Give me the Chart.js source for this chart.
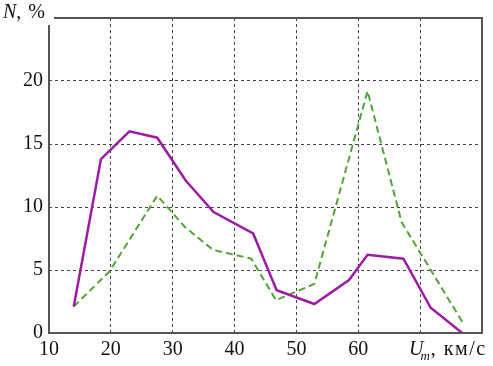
<!DOCTYPE html>
<html>
<head>
<meta charset="utf-8">
<script src="https://cdn.jsdelivr.net/npm/chart.js@4"></script>
<style>
  html, body { margin: 0; padding: 0; background: #fff; }
  #wrap { width: 493px; height: 366px; }
</style>
</head>
<body>
<div id="wrap"><canvas id="chart" width="493" height="366"></canvas></div>
<script>
// solid purple curve
var purpleX = [14, 18.4, 23, 27.5, 32.1, 36.6, 43, 46.8, 52.9, 58.5, 61.5, 67.3, 71.7, 76.8];
var purpleY = [2.1, 13.8, 16.0, 15.5, 12.1, 9.6, 7.9, 3.4, 2.3, 4.2, 6.2, 5.9, 2.0, 0];
// dashed green curve
var greenX = [14, 19.8, 27.5, 32, 36.5, 42.7, 46.7, 52.9, 61.5, 67, 76.8];
var greenY = [2.1, 4.9, 10.9, 8.4, 6.6, 5.9, 2.6, 3.9, 19.2, 8.8, 0.9];

var xTicks = [10, 20, 30, 40, 50, 60];
var yTicks = [0, 5, 10, 15, 20];

var serif = "'Liberation Serif', 'DejaVu Serif', serif";

function pts(xs, ys) {
  return xs.map((x, i) => ({ x: x, y: ys[i] }));
}

// frame + axis titles (the frame leaves a gap in the top-left for "N, %")
var framePlugin = {
  id: 'frame',
  afterDraw(chart) {
    var a = chart.chartArea;
    var ctx = chart.ctx;
    ctx.save();
    ctx.strokeStyle = '#555';
    ctx.lineWidth = 2;
    ctx.beginPath();
    ctx.moveTo(a.left, 25);
    ctx.lineTo(a.left, a.bottom);
    ctx.lineTo(a.right, a.bottom);
    ctx.lineTo(a.right, a.top);
    ctx.lineTo(54, a.top);
    ctx.stroke();

    ctx.fillStyle = '#111';
    ctx.textBaseline = 'middle';
    ctx.textAlign = 'left';
    // N, %
    ctx.font = 'italic 20px ' + serif;
    ctx.fillText('N', 3, 13);
    var w = ctx.measureText('N').width;
    ctx.font = '20px ' + serif;
    ctx.letterSpacing = '1px';
    ctx.fillText(', %', 3 + w, 13);
    ctx.letterSpacing = '0px';

    // U_m, км/с
    var x0 = 409, y0 = 350;
    ctx.font = 'italic 20px ' + serif;
    ctx.fillText('U', x0, y0);
    var wu = ctx.measureText('U').width;
    ctx.font = 'italic 13px ' + serif;
    ctx.fillText('m', x0 + wu - 3, y0 + 7);
    var wm = ctx.measureText('m').width;
    ctx.font = '20px ' + serif;
    ctx.letterSpacing = '1.5px';
    ctx.fillText(', км/с', x0 + wu - 2 + wm, y0);
    ctx.restore();
  }
};

new Chart(document.getElementById('chart'), {
  type: 'line',
  data: {
    datasets: [
      {
        data: pts(purpleX, purpleY),
        borderColor: '#9d1ca3',
        borderWidth: 2.5,
        pointRadius: 0,
        tension: 0,
        fill: false
      },
      {
        data: pts(greenX, greenY),
        borderColor: '#52a338',
        borderWidth: 2,
        borderDash: [7, 4],
        pointRadius: 0,
        tension: 0,
        fill: false
      }
    ]
  },
  options: {
    responsive: false,
    animation: false,
    layout: { padding: { left: 0, top: 12, right: 11, bottom: 0 } },
    plugins: {
      legend: { display: false },
      tooltip: { enabled: false }
    },
    scales: {
      x: {
        type: 'linear',
        min: 10,
        max: 80,
        afterFit: (s) => { s.height = 33; },
        afterBuildTicks: (s) => {
          s.ticks = [10, 20, 30, 40, 50, 60, 70, 80].map(v => ({ value: v }));
        },
        grid: {
          drawTicks: false,
          color: (c) => (c.tick && (c.tick.value === 10 || c.tick.value === 80)) ? 'rgba(0,0,0,0)' : '#444',
          lineWidth: 1
        },
        border: { display: false, dash: [3, 3] },
        ticks: {
          padding: 5,
          maxRotation: 0,
          color: '#111',
          font: { family: serif, size: 20 },
          callback: (v) => xTicks.includes(v) ? String(v) : ''
        }
      },
      y: {
        min: 0,
        max: 25,
        afterFit: (s) => { s.width = 49; },
        afterBuildTicks: (s) => {
          s.ticks = [0, 5, 10, 15, 20, 25].map(v => ({ value: v }));
        },
        grid: {
          drawTicks: false,
          color: (c) => (c.tick && (c.tick.value === 0 || c.tick.value === 25)) ? 'rgba(0,0,0,0)' : '#444',
          lineWidth: 1
        },
        border: { display: false, dash: [3, 3] },
        ticks: {
          padding: 6,
          color: '#111',
          font: { family: serif, size: 20 },
          callback: (v) => yTicks.includes(v) ? String(v) : ''
        }
      }
    }
  },
  plugins: [framePlugin]
});
</script>
</body>
</html>
